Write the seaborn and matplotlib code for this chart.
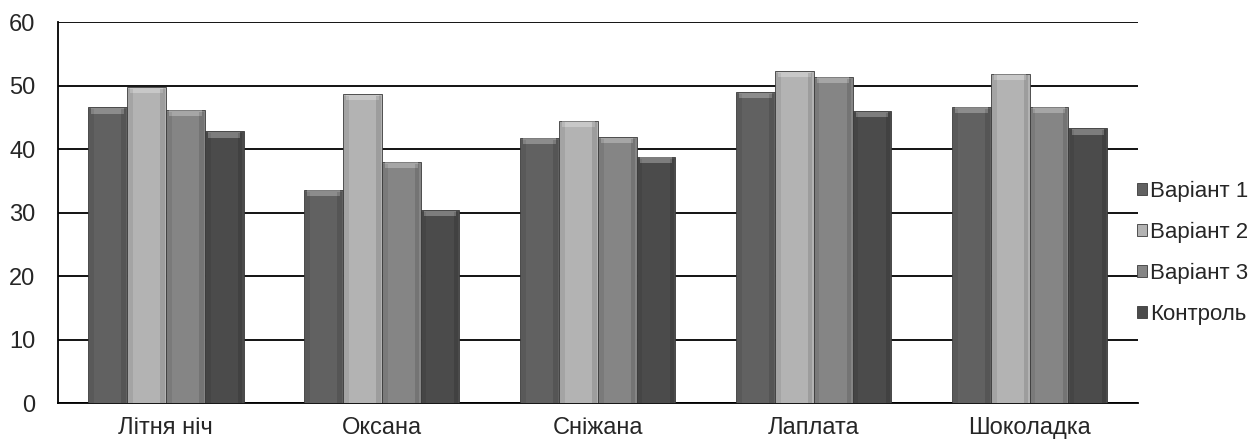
import pandas as pd
import numpy as np
import matplotlib
matplotlib.use('Agg')
import matplotlib.pyplot as plt
import seaborn as sns
from matplotlib.patches import Patch

# values
varieties = ['Літня ніч', 'Оксана', 'Сніжана', 'Лаплата', 'Шоколадка']
series = ['Варіант 1', 'Варіант 2', 'Варіант 3', 'Контроль']
variant1 = [46.6, 33.6, 41.8, 49.0, 46.7]
variant2 = [49.8, 48.7, 44.5, 52.3, 51.9]
variant3 = [46.2, 38.0, 41.9, 51.4, 46.7]
control = [42.8, 30.4, 38.8, 46.0, 43.3]
y_ticks = [0, 10, 20, 30, 40, 50, 60]

colors = ['#616161', '#b3b3b3', '#858585', '#4b4b4b']


def main():
    df = pd.DataFrame({
        'variety': varieties * 4,
        'series': np.repeat(series, len(varieties)),
        'value': variant1 + variant2 + variant3 + control,
    })

    sns.set_style('white')
    plt.rcParams['font.family'] = ['Liberation Sans', 'DejaVu Sans']

    fig = plt.figure(figsize=(12.57, 4.43), dpi=100)
    ax = fig.add_axes([0.046, 0.09, 0.859, 0.86])

    sns.barplot(data=df, x='variety', y='value', hue='series', order=varieties,
                hue_order=series, palette=colors, width=0.72, saturation=1,
                edgecolor='#3a3a3a', linewidth=0.6, legend=False, ax=ax, zorder=3)

    # light bevel along the top of each bar, shaded sides
    for patch in ax.patches:
        x0 = patch.get_x()
        w = patch.get_width()
        h = patch.get_height()
        ax.fill_between([x0 + w * 0.08, x0 + w * 0.92], h - 1.0, h - 0.1,
                        color='white', alpha=0.28, lw=0, zorder=4)
        ax.fill_between([x0 + w * 0.03, x0 + w * 0.15], 0, h - 0.3,
                        color='black', alpha=0.08, lw=0, zorder=4)
        ax.fill_between([x0 + w * 0.85, x0 + w * 0.97], 0, h - 0.3,
                        color='black', alpha=0.12, lw=0, zorder=4)

    ax.set_ylim(0, 60)
    ax.set_yticks(y_ticks)
    ax.set_xlim(-0.5, len(varieties) - 0.5)
    ax.yaxis.grid(True, color='black', linewidth=1.3, zorder=0)
    ax.set_axisbelow(True)
    ax.set_xlabel('')
    ax.set_ylabel('')
    ax.tick_params(axis='both', labelsize=17, length=0)
    ax.tick_params(axis='x', pad=10)
    ax.tick_params(axis='y', pad=16)
    for side in ['top', 'right']:
        ax.spines[side].set_visible(False)
    for side in ['left', 'bottom']:
        ax.spines[side].set_color('black')
        ax.spines[side].set_linewidth(1.3)

    handles = [Patch(facecolor=c, edgecolor='#3a3a3a', linewidth=0.6) for c in colors]
    ax.legend(handles, series, loc='center left', bbox_to_anchor=(0.991, 0.395),
              frameon=False, fontsize=16, handlelength=0.45, handleheight=0.45,
              handletextpad=0.15, labelspacing=0.9, borderaxespad=0.0)

    fig.savefig('out.png', dpi=100)
    plt.close(fig)


if __name__ == '__main__':
    main()
